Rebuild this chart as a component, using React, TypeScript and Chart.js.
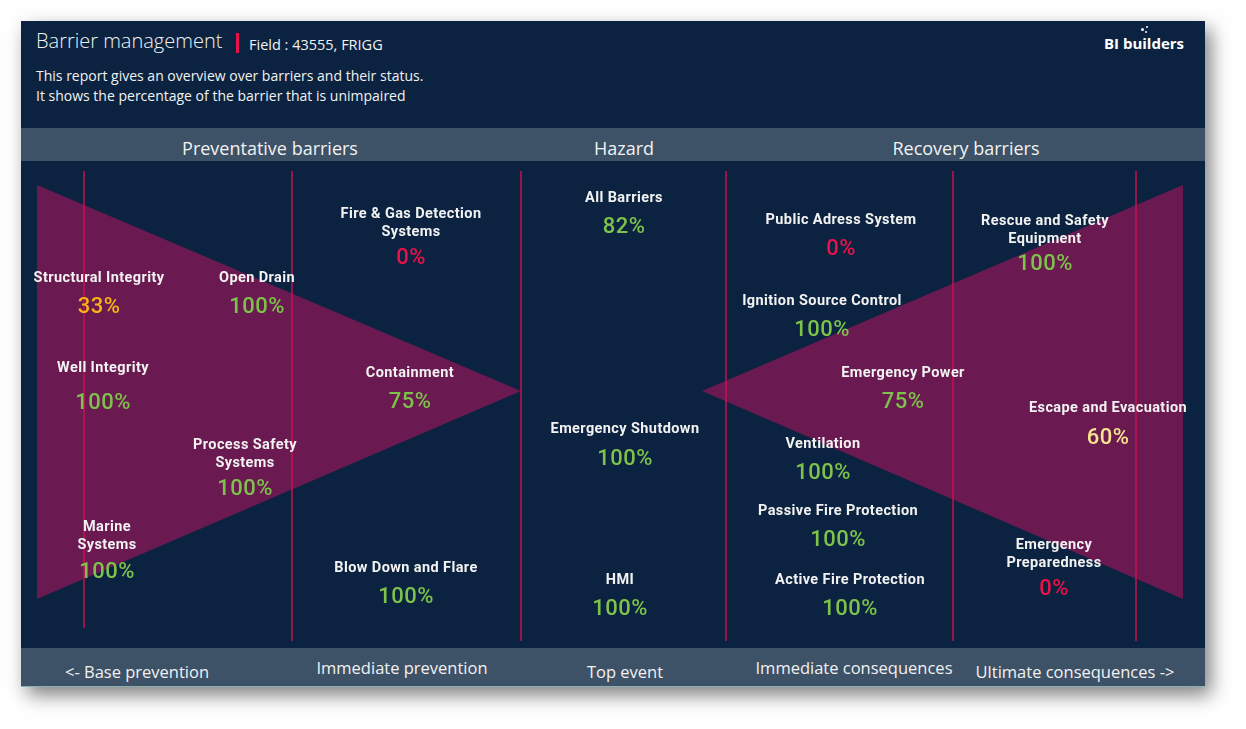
import React, { useEffect, useRef } from "react";
import { Chart, registerables } from "chart.js";

Chart.register(...registerables);

// ---- Data ----
const barrierNames = [
  "Structural Integrity",
  "Open Drain",
  "Well Integrity",
  "Process Safety\nSystems",
  "Marine\nSystems",
  "Fire & Gas Detection\nSystems",
  "Containment",
  "Blow Down and Flare",
  "All Barriers",
  "Emergency Shutdown",
  "HMI",
  "Public Adress System",
  "Ignition Source Control",
  "Emergency Power",
  "Ventilation",
  "Passive Fire Protection",
  "Active Fire Protection",
  "Rescue and Safety\nEquipment",
  "Escape and Evacuation",
  "Emergency\nPreparedness",
];
const barrierValues = [33, 100, 100, 100, 100, 0, 75, 100, 82, 100, 100, 0, 100, 75, 100, 100, 100, 100, 60, 0];

// label anchor positions (diagram units)
const labelX = [78, 236, 82, 224, 86, 390, 389, 385, 603, 604, 599, 820, 801, 882, 802, 817, 829, 1024, 1087, 1033];
const labelY = [115, 115, 205, 282, 364, 51, 210, 405, 35, 266, 417, 57, 138, 210, 281, 348, 417, 58, 245, 382];
const valueY = [144, 144, 240, 326, 409, 95, 239, 434, 64, 296, 446, 86, 167, 239, 310, 377, 446, 101, 275, 426];

// bow-tie shapes
const leftWingX = [16, 500, 16, 16];
const leftWingY = [24, 230, 438, 24];
const rightWingX = [1162, 681, 1162, 1162];
const rightWingY = [24, 230, 438, 24];

// column dividers
const dividerX = [63, 271, 500, 705, 932, 1115];
const dividerTop = [10, 10, 10, 10, 10, 10];
const dividerBottom = [467, 480, 480, 480, 480, 480];

const sectionTitles = ["Preventative barriers", "Hazard", "Recovery barriers"];
const footerTitles = ["<- Base prevention", "Immediate prevention", "Top event", "Immediate consequences", "Ultimate consequences ->"];

// ---- Styles ----
const NAVY = "#0B2340";
const BAR = "#3D5167";
const WING = "#6A1A50";
const DIVIDER = "#C4124F";
const TEXT = "#F2F2F2";

function valueColor(v: number) {
  if (v === 0) return "#EC1148";
  if (v < 50) return "#F7B516";
  if (v < 75) return "#F8E48C";
  return "#7DC24A";
}

const labelPlugin = {
  id: "barrierLabels",
  afterDatasetsDraw(chart: any) {
    const { ctx, scales } = chart;
    const xs = scales.x;
    const ys = scales.y;
    ctx.save();
    ctx.textAlign = "center";
    ctx.textBaseline = "middle";
    barrierNames.forEach((name, i) => {
      const px = xs.getPixelForValue(labelX[i]);
      ctx.font = "700 14.5px Roboto";
      (ctx as any).letterSpacing = "0.4px";
      ctx.fillStyle = TEXT;
      name.split("\n").forEach((ln, j) => {
        ctx.fillText(ln, px, ys.getPixelForValue(labelY[i] + j * 18) + 2);
      });
      ctx.font = "500 22px Roboto";
      (ctx as any).letterSpacing = "0.5px";
      ctx.fillStyle = valueColor(barrierValues[i]);
      ctx.fillText(barrierValues[i] + "%", px, ys.getPixelForValue(valueY[i]) + 2);
    });
    ctx.restore();
  },
};

function BowTie() {
  const ref = useRef<HTMLCanvasElement>(null);
  useEffect(() => {
    if (!ref.current) return;
    const toPts = (xs: number[], ys: number[]) => xs.map((x, i) => ({ x, y: ys[i] }));
    const datasets: any[] = [
      {
        data: toPts(leftWingX, leftWingY),
        showLine: true,
        fill: "shape",
        backgroundColor: WING,
        borderColor: WING,
        borderWidth: 0,
        pointRadius: 0,
        order: 5,
      },
      {
        data: toPts(rightWingX, rightWingY),
        showLine: true,
        fill: "shape",
        backgroundColor: WING,
        borderColor: WING,
        borderWidth: 0,
        pointRadius: 0,
        order: 5,
      },
      ...dividerX.map((x, i) => ({
        data: [
          { x, y: dividerTop[i] },
          { x, y: dividerBottom[i] },
        ],
        showLine: true,
        fill: false,
        borderColor: DIVIDER,
        borderWidth: 1.5,
        pointRadius: 0,
        order: 1,
      })),
    ];
    const chart = new Chart(ref.current, {
      type: "scatter",
      data: { datasets },
      options: {
        responsive: false,
        animation: false,
        events: [],
        layout: { padding: 0 },
        plugins: { legend: { display: false }, tooltip: { enabled: false } },
        scales: {
          x: { type: "linear", min: 0, max: 1184, display: false },
          y: { type: "linear", min: 0, max: 487, reverse: true, display: false },
        },
      } as any,
      plugins: [labelPlugin],
    });
    return () => chart.destroy();
  }, []);
  return <canvas ref={ref} width={1184} height={487} style={{ position: "absolute", left: 0, top: 140, width: 1184, height: 487 }} />;
}

function CText(props: { cx: number; cy: number; size: number; children: any; weight?: number; color?: string }) {
  return (
    <div
      style={{
        position: "absolute",
        left: props.cx,
        top: props.cy,
        transform: "translate(-50%, -50%)",
        whiteSpace: "nowrap",
        fontSize: props.size,
        fontWeight: props.weight ?? 400,
        color: props.color ?? TEXT,
        lineHeight: 1,
      }}
    >
      {props.children}
    </div>
  );
}

function LText(props: { x: number; cy: number; size: number; children: any; weight?: number; color?: string }) {
  return (
    <div
      style={{
        position: "absolute",
        left: props.x,
        top: props.cy,
        transform: "translateY(-50%)",
        whiteSpace: "nowrap",
        fontSize: props.size,
        fontWeight: props.weight ?? 400,
        color: props.color ?? TEXT,
        lineHeight: 1,
      }}
    >
      {props.children}
    </div>
  );
}

export default function App() {
  const sectionX = [249, 603, 945];
  const footerX = [116, 381, 604, 833, 1054];
  const footerY = [24, 20, 24, 20, 24];
  return (
    <div
      style={{
        position: "absolute",
        left: 0,
        top: 0,
        width: 1246,
        height: 729,
        background: "#FFFFFF",
        overflow: "hidden",
        fontFamily: '"Open Sans", "Noto Sans", sans-serif',
      }}
    >
      <div
        style={{
          position: "absolute",
          left: 21,
          top: 21,
          width: 1184,
          height: 666,
          background: NAVY,
          boxShadow: "6px 8px 18px rgba(0,0,0,0.5)",
        }}
      >
        <LText x={15} cy={20} size={20} weight={300}>Barrier management</LText>
        <div style={{ position: "absolute", left: 215, top: 12, width: 3, height: 20, background: "#E8134B" }} />
        <LText x={228} cy={24} size={14.5}>Field : 43555, FRIGG</LText>
        <LText x={15} cy={55} size={14}>This report gives an overview over barriers and their status.</LText>
        <LText x={15} cy={75} size={14}>It shows the percentage of the barrier that is unimpaired</LText>
        <LText x={1083} cy={22} size={15} weight={700} color="#FFFFFF">BI builders</LText>
        <div style={{ position: "absolute", left: 1120, top: 7, width: 3, height: 3, borderRadius: 2, background: "#fff" }} />
        <div style={{ position: "absolute", left: 1125, top: 5, width: 2, height: 2, borderRadius: 1, background: "#fff" }} />
        <div style={{ position: "absolute", left: 1124, top: 10, width: 2, height: 2, borderRadius: 1, background: "#fff" }} />

        <div style={{ position: "absolute", left: 0, top: 107, width: 1184, height: 33, background: BAR }}>
          {sectionTitles.map((t, i) => (
            <CText key={t} cx={sectionX[i]} cy={20} size={18}>{t}</CText>
          ))}
        </div>

        <BowTie />

        <div
          style={{
            position: "absolute",
            left: 0,
            top: 627,
            width: 1184,
            height: 39,
            background: BAR,
            borderBottom: "1px solid rgba(170,215,215,0.7)",
            boxSizing: "border-box",
          }}
        >
          {footerTitles.map((t, i) => (
            <CText key={t} cx={footerX[i]} cy={footerY[i]} size={16.5}>{t}</CText>
          ))}
        </div>
      </div>
    </div>
  );
}
